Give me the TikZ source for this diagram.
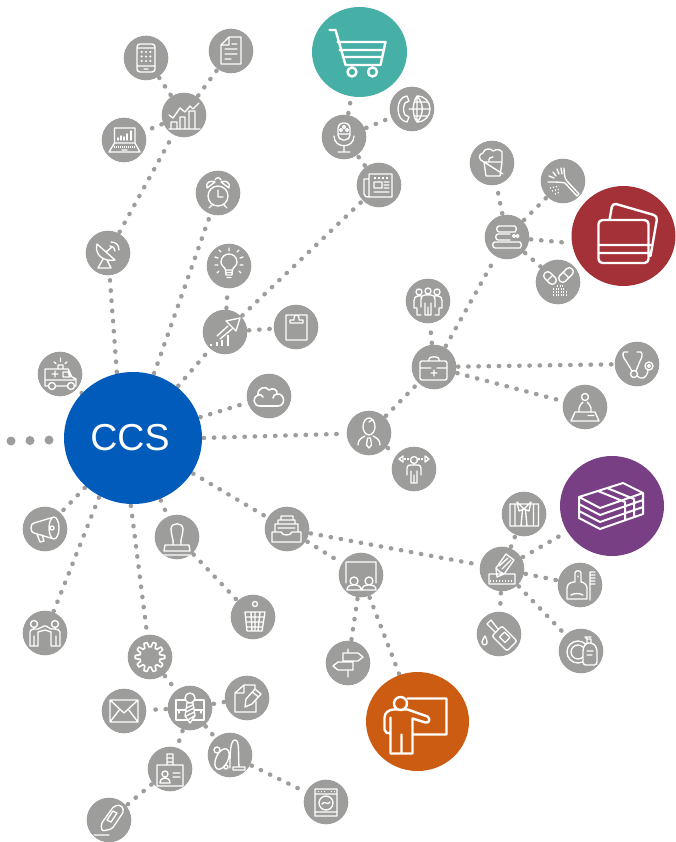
\documentclass[tikz,border=0pt]{standalone}
\usepackage{fontspec}
\setmainfont{Liberation Sans}
\usetikzlibrary{shapes.geometric,backgrounds}
\definecolor{hubgray}{HTML}{9D9D9C}
\definecolor{ccsblue}{HTML}{005BBB}
\definecolor{cartteal}{HTML}{46AFA6}
\definecolor{cardred}{HTML}{A43137}
\definecolor{cashpurple}{HTML}{793F84}
\definecolor{teachorange}{HTML}{CC5C11}
\tikzstyle{hub} = [circle, fill=hubgray, minimum size=44.6pt, inner sep=0pt]
\tikzstyle{bigdisc} = [ellipse, inner sep=0pt, minimum width=104pt, minimum height=100pt]
\tikzstyle{link} = [draw=hubgray, line width=4.4pt, line cap=round,
    dash pattern=on 0.4pt off 9.8pt, shorten <=1.5pt, shorten >=1pt]
\tikzstyle{glyph} = [draw=white, line width=1.35pt, line join=round, line cap=round]
\tikzstyle{bigglyph} = [line width=2.4pt]
\newcommand{\glyph}[3][]{\draw[glyph,shift={(#2)},#1] #3;}
\begin{document}
\begin{tikzpicture}[x=1pt,y=-1pt]
    \useasboundingbox (0,0) rectangle (676,842);
    % centre and coloured discs
    \node[ellipse, fill=ccsblue, inner sep=0pt, minimum width=138pt, minimum height=132pt,
        text=white, font=\fontsize{37.5}{40}\selectfont] (ccs) at (133,438) {CCS\kern6pt};
    \node[bigdisc, fill=cartteal, minimum width=95pt, minimum height=90pt] (cart) at (359.5,52) {};
    \node[bigdisc, fill=cardred] (cards) at (623.5,236) {};
    \node[bigdisc, fill=cashpurple] (cash) at (612,506) {};
    \node[bigdisc, fill=teachorange, minimum width=103pt, minimum height=99pt] (teacher) at (417.5,721.5) {};
    % grey discs
    \node[hub] (tablet) at (146,58) {};
    \node[hub] (sheet) at (231,51) {};
    \node[hub] (chart) at (184,115) {};
    \node[hub] (laptop) at (124,140) {};
    \node[hub] (radar) at (108,253) {};
    \node[hub] (alarm) at (218,193) {};
    \node[hub] (bulb) at (229,266) {};
    \node[hub] (growth) at (225,332) {};
    \node[hub] (clipboard) at (296,327) {};
    \node[hub] (ambulance) at (60,374) {};
    \node[hub] (cloud) at (269,396) {};
    \node[hub] (micro) at (344,137) {};
    \node[hub] (callglobe) at (412,109) {};
    \node[hub] (paper) at (379,185) {};
    \node[hub] (bucket) at (492,163) {};
    \node[hub] (duster) at (563,181) {};
    \node[hub] (towels) at (507,237) {};
    \node[hub] (pills) at (558,282) {};
    \node[hub] (crowd) at (428,301) {};
    \node[hub] (medkit) at (434,367) {};
    \node[hub] (stetho) at (637,364) {};
    \node[hub] (desk) at (585,407) {};
    \node[hub] (manager) at (369,433) {};
    \node[hub] (stretch) at (414,469) {};
    \node[hub] (shirt) at (524,514) {};
    \node[hub] (ruler) at (502,569) {};
    \node[hub] (dustpan) at (580,585) {};
    \node[hub] (soap) at (581,651) {};
    \node[hub] (glue) at (499,634) {};
    \node[hub] (room) at (361,575) {};
    \node[hub] (signpost) at (348,663) {};
    \node[hub] (inbox) at (287,529) {};
    \node[hub] (megaphone) at (45,529) {};
    \node[hub] (handshake) at (45,633) {};
    \node[hub] (stamp) at (177,537) {};
    \node[hub] (trash) at (253,617) {};
    \node[hub] (gear) at (150,657) {};
    \node[hub] (envelope) at (124,711) {};
    \node[hub] (suit) at (190,708) {};
    \node[hub] (pen) at (247,698) {};
    \node[hub] (vacuum) at (230,755) {};
    \node[hub] (badge) at (170,769) {};
    \node[hub] (cutter) at (109,820) {};
    \node[hub] (washer) at (326,802) {};
    \coordinate (offpage) at (11,441);
    % connectors
    \begin{scope}[on background layer]
        \draw[draw=hubgray, line width=9pt, line cap=round, dash pattern=on 0.01pt off 19pt] (offpage) -- (ccs);
        \draw[link] (ccs.104) -- (radar);
        \draw[link] (radar) -- (chart);
        \draw[link] (chart) -- (tablet);
        \draw[link] (chart) -- (sheet);
        \draw[link] (chart) -- (laptop);
        \draw[link] (ccs.72) -- (alarm);
        \draw[link] (ccs) -- (growth);
        \draw[link] (growth) -- (bulb);
        \draw[link] (growth) -- (clipboard);
        \draw[link] (growth) -- (paper);
        \draw[link] (paper) -- (micro);
        \draw[link] (micro) -- (callglobe);
        \draw[link] (micro) -- (cart);
        \draw[link, shorten <=0pt, shorten >=0pt] (ccs) -- (ambulance);
        \draw[link] (ccs) -- (cloud);
        \draw[link] (ccs.0) -- (manager);
        \draw[link] (manager) -- (stretch);
        \draw[link] (manager) -- (medkit);
        \draw[link] (medkit) -- (crowd);
        \draw[link] (medkit) -- (towels);
        \draw[link] (medkit) -- (stetho);
        \draw[link] (medkit) -- (desk);
        \draw[link] (towels) -- (bucket);
        \draw[link] (towels) -- (duster);
        \draw[link] (towels) -- (cards.188);
        \draw[link] (towels) -- (pills);
        \draw[link] (ccs) -- (inbox);
        \draw[link] (inbox) -- (ruler);
        \draw[link] (inbox) -- (room);
        \draw[link] (room) -- (signpost);
        \draw[link] (room) -- (teacher);
        \draw[link] (ruler) -- (shirt);
        \draw[link] (ruler) -- (cash);
        \draw[link] (ruler) -- (dustpan);
        \draw[link] (ruler) -- (soap);
        \draw[link] (ruler) -- (glue);
        \draw[link] (ccs) -- (stamp);
        \draw[link] (stamp) -- (trash);
        \draw[link] (ccs.268) -- (gear);
        \draw[link] (gear) -- (suit);
        \draw[link] (suit) -- (envelope);
        \draw[link] (suit) -- (pen);
        \draw[link] (suit) -- (vacuum);
        \draw[link] (suit) -- (badge);
        \draw[link] (badge) -- (cutter);
        \draw[link] (vacuum) -- (washer);
        \draw[link] (ccs) -- (megaphone);
        \draw[link] (ccs.240) -- (handshake);
    \end{scope}
    % icons on the coloured discs
    \glyph[bigglyph]{cart}{(-30,-22)--(-24,-22)--(-14,13)--(21,13) (-22,-10)--(26,-10)--(21,13) (-20,-2)--(24,-2) (-17,5)--(23,5)
        (-7.5,20) circle[radius=4.5] (13,20) circle[radius=4.5]}
    \glyph[bigglyph]{cards}{[rounded corners=4] (-25,-16) rectangle (25,27) [sharp corners] (-25,9)--(27,9) (-25,17)--(27,17)
        [rounded corners=4] (-14,-16)--(-11,-33)--(34,-20)--(27,20)}
    \glyph[line width=2pt]{cash}{(-33,-9)--(11,-23)--(31,-13)--(-12,2)--cycle (-33,-9)--(-33,12)--(-12,23)--(31,8)--(31,-13)
        (-33,-2)--(-12,9)--(31,-6) (-33,5)--(-12,16)--(31,1) (-14,-15)--(13,-4)--(13,14) (-5,-18)--(22,-7)--(22,10)}
    \glyph[bigglyph]{teacher}{(-10,-23)--(29,-23)--(29,13)--(-5,13)
        (-27,32)--(-5,32)--(-5,-3)--(8,1) .. controls (12,2) and (13,-3) .. (10,-5)--(-10,-12)--(-24,-12) .. controls (-28,-12) and (-33,-9) .. (-33,-4)--(-33,8) .. controls (-33,11) and (-30,12) .. (-27,12)--cycle
        (-27,-4)--(-27,12) (-16,32)--(-16,13)}
    \glyph[bigglyph,fill=teachorange]{teacher}{(-17,-18) circle[radius=6.5]}
    % icons on the grey discs
    \glyph{tablet}{[rounded corners=3] (-9,-14) rectangle (9,14) [sharp corners] (-9,-10)--(9,-10) (-9,8)--(9,8) (-2,11)--(2,11)}
    \foreach \dx in {-4.3,0,4.3} {\foreach \dy in {-6,-1.5,3} {\fill[white,shift={(tablet)}] (\dx,\dy) circle[radius=1.2];}}
    \glyph{sheet}{(-2,-14)--(10,-14)--(10,13)--(-10,13)--(-10,-6)--cycle (-2,-14)--(-2,-6)--(-10,-6) (1,-7)--(6,-7) (-6,-2)--(6,-2) (-6,3)--(6,3) (-6,8)--(0,8)}
    \glyph{chart}{(-15,14)--(16,14) (-13,14)--(-13,7)--(-7,7)--(-7,14) (-4,14)--(-4,2)--(1,2)--(1,14) (5,14)--(5,-4)--(11,-4)--(11,14)
        (-15,0)--(-11,3)--(-4,-7)--(1,-3)--(6,-9)--(9,-6)--(15,-12)}
    \glyph{laptop}{(-9.5,-12) rectangle (11,3) (-9.5,3)--(-15,12)--(16,12)--(11,3) (-2,10)--(3,10)}
    \glyph[line width=1.5pt]{laptop}{(-6,0)--(-6,-2) (-3,0)--(-3,-4) (0,0)--(0,-3) (3,0)--(3,-6) (7,0)--(7,-9)}
    \glyph[line width=1.5pt,line cap=butt,dash pattern=on 1pt off 1pt]{laptop}{(-10,7)--(11,7)}
    \glyph{radar}{(-11,-9) .. controls (-14,2) and (-4,9) .. (7,7)--cycle (-5,6)--(-10,15)--(3,15)--(-1,7) (-2,-1)--(4,-6)
        (3,-11) .. controls (8,-11) and (11,-8) .. (11,-3) (2,-7) .. controls (5,-7) and (7,-5) .. (7,-2)}
    \glyph{alarm}{(0,3) circle[radius=10] (0,-3)--(0,4)--(5,4) (-11,-5) .. controls (-13,-11) and (-7,-13) .. (-3,-11)--cycle
        (11,-5) .. controls (13,-11) and (7,-13) .. (3,-11)--cycle (-3,-13) .. controls (-2,-16) and (2,-16) .. (3,-13) (-6,12)--(-9,15) (6,12)--(9,15)}
    \glyph{bulb}{(-3.5,4) .. controls (-4,1) and (-8,0) .. (-8,-4) .. controls (-8,-9) and (-4,-12) .. (0,-12) .. controls (4,-12) and (8,-9) .. (8,-4) .. controls (8,0) and (4,1) .. (3.5,4)--cycle
        (-3.5,4)--(-3,9)--(3,9)--(3.5,4) (-3,6.5)--(3,6.5) (-2,11.5)--(2,11.5)
        (0,-15)--(0,-18) (-8,-14)--(-10,-16) (8,-14)--(10,-16) (-11,-8)--(-14,-9) (11,-8)--(14,-9) (-11,-1)--(-14,-1) (11,-1)--(14,-1) (-10,5)--(-12,7) (10,5)--(12,7)}
    \glyph{growth}{(-8,4)--(3,-6) (-5,7)--(7,-3) (1,-11)--(15,-14)--(11,-1)--cycle}
    \glyph[line width=2pt,line cap=butt]{growth}{(-14,14)--(-14,12) (-8,14)--(-8,10) (-3,14)--(-3,8) (3,14)--(3,3)}
    \glyph{clipboard}{(-10,-12) rectangle (11,13) (-6,-4)--(7,-4)--(7,-7)--(3,-7)--(3,-9)
        .. controls (3,-13) and (-2,-13) .. (-2,-9)--(-2,-7)--(-6,-7)--cycle}
    \glyph{ambulance}{(-15,-5)--(8,-5)--(12,3)--(16,5)--(16,12)--(-15,12)--cycle (3,-2)--(8,-2)--(10,3)--(3,3)--cycle (-15,6)--(16,6)
        (-8,0)--(-2,0) (-5,-3)--(-5,3) (-2,-5)--(-2,-9)--(3,-9)--(3,-5) (-6,-12)--(-4,-10.5) (0.5,-16)--(0.5,-12.5) (7,-12)--(5,-10.5)}
    \glyph[fill=hubgray]{ambulance}{(-8,12) circle[radius=3.5] (11,12) circle[radius=3.5]}
    \glyph[line width=1.6pt]{cloud}{(-9,10) .. controls (-16,10) and (-17,1) .. (-11,-1) .. controls (-12,-8) and (-3,-11) .. (0,-6) .. controls (4,-9) and (9,-6) .. (8,-2) .. controls (16,-3) and (17,10) .. (9,10)--cycle
        (-11,-1) .. controls (-9,-2) and (-7,-1) .. (-6,1) (8,-2) .. controls (6,-2) and (4,0) .. (4,2)}
    \glyph{micro}{(-10,-1) .. controls (-10,12) and (10,12) .. (10,-1) (0,9)--(0,15) (-6,15)--(6,15)
        [rounded corners=5] (-6,-14) rectangle (6,3) [sharp corners] (-6,-3)--(6,-3) (-3,-7) circle[radius=1.5] (3,-7) circle[radius=1.5] (0,-10) circle[radius=1.5]}
    \glyph{callglobe}{(-5,-13) .. controls (-17,-12) and (-17,12) .. (-5,13)--(-3,8)--(-7,6) .. controls (-9,2) and (-9,-2) .. (-7,-6)--(-3,-8)--cycle
        (5,-13) .. controls (13,-13) and (18,-7) .. (18,0) .. controls (18,7) and (13,13) .. (5,13)--(5,-13)
        (5,-13) .. controls (0,-6) and (0,6) .. (5,13) (5,-13) .. controls (12,-6) and (12,6) .. (5,13) (-3,0)--(18,0) (2,-7)--(16,-7) (2,7)--(16,7)}
    \glyph{paper}{(-10,-11)--(13,-11)--(13,12)--(-10,12)--cycle (-10,-6)--(-15,-6)--(-15,9) .. controls (-15,12) and (-12,12) .. (-10,12)
        (-5,-3) rectangle (3,3) (5,-3)--(10,-3) (5,0)--(10,0) (5,3)--(10,3) (-5,7)--(10,7)}
    \glyph[line cap=butt,dash pattern=on 2pt off 2pt]{paper}{(-5,-7)--(10,-7)}
    \glyph{bucket}{(-8,-1)--(-6,13)--(8,13)--(10,-1)--cycle (-8,-1) .. controls (-14,-3) and (-14,-9) .. (-9,-10) .. controls (-8,-15) and (-1,-15) .. (1,-12) .. controls (5,-15) and (12,-13) .. (10,-8)--(10,-1)
        (-8,-1)--(11,11) (-3,-1) .. controls (-4,-5) and (-1,-6) .. (1,-6)}
    \glyph{duster}{(2,2)--(14,15)--(16,13)--(4,0) (1,-13) .. controls (1,-6) and (2,-2) .. (4,0) (-15,1) .. controls (-8,1) and (-2,1) .. (2,2)
        (-2,-13)--(-1,-7) (-6,-12)--(-4,-7) (-10,-9)--(-7,-5) (-14,-5)--(-9,-3)}
    \glyph[line cap=butt,dash pattern=on 1pt off 2pt]{duster}{(-13,7)--(-4,5) (-11,10)--(-3,8) (-8,13)--(-3,11)}
    \glyph{towels}{(8,-11)--(-8,-11) .. controls (-11,-11) and (-11,-5) .. (-8,-5)--(8,-5) .. controls (10,-7) and (10,-9) .. (8,-11)
        (3,-3)--(-9,-3) .. controls (-12,-3) and (-12,3) .. (-9,3)--(3,3)
        (13,5)--(-12,5) .. controls (-15,5) and (-15,11) .. (-12,11)--(13,11) .. controls (15,9) and (15,7) .. (13,5)
        (7,-1) circle[radius=1.5] (10.5,-1) circle[radius=1.5]}
    \glyph{pills}{[rounded corners=3.5] (-10.2,-11.8)--(-0.2,-1.8)--(-5.8,3.8)--(-15.8,-6.2)--cycle (16.8,-10.2)--(4.8,1.8)--(-0.8,-3.8)--(11.2,-15.8)--cycle
        [sharp corners] (-5.2,-6.8)--(-10.8,-1.2) (10.8,-4.2)--(5.2,-9.8)}
    \glyph[line width=1.4pt,line cap=butt,dash pattern=on 1pt off 1.5pt]{pills}{(-1,4)--(6,4) (-5,7)--(7,7) (-5,10)--(8,10) (-5,13)--(8,13)}
    \glyph{crowd}{(0,-10) circle[radius=3] (-9,-9) circle[radius=3] (9,-9) circle[radius=3]
        (-3,14)--(-3,2) (-7,6)--(-7,-2) .. controls (-7,-5) and (-5,-6) .. (-3,-6)--(3,-6) .. controls (5,-6) and (7,-5) .. (7,-2)--(7,6) (0,14)--(0,6) (3,14)--(3,2) (-3,14)--(3,14)
        (-7,-5)--(-10,-5) .. controls (-13,-5) and (-14,-3) .. (-14,0)--(-14,7)--(-11,7)--(-11,14)--(-7,14) (7,-5)--(10,-5) .. controls (13,-5) and (14,-3) .. (14,0)--(14,7)--(11,7)--(11,14)--(7,14)}
    \glyph{medkit}{[rounded corners=2] (-14,-6) rectangle (13,13) [sharp corners] (-14,1)--(-3,1) (3,1)--(13,1) (-5,-6)--(-5,-8) .. controls (-5,-11) and (5,-11) .. (5,-8)--(5,-6) (-3,6)--(3,6) (0,3)--(0,9)}
    \glyph{stetho}{(-13,-12) .. controls (-15,-11) and (-14,-6) .. (-11,-3)--(-5,7) (4,-12) .. controls (6,-10) and (5,-6) .. (3,-3)--(-1,7)
        (-3,10) circle[radius=3.5] (0,12) .. controls (4,16) and (10,15) .. (11,6) (12,2) circle[radius=4] (12,2) circle[radius=1.5] (-13,-12)--(-9,-12) (4,-12)--(0,-12)}
    \glyph{desk}{(0,-10) circle[radius=3.5] (-6,5)--(-6,1) .. controls (-6,-2) and (-3,-3) .. (-2,-5) (6,5)--(6,1) .. controls (6,-2) and (3,-3) .. (2,-5) (-10,5)--(10,5)--(14,14)--(-14,14)--cycle (3,8.5)--(9,8.5)}
    \glyph{manager}{(-6,-6) .. controls (-6,-18) and (6,-18) .. (6,-6) .. controls (6,-2) and (3,2) .. (0,2) .. controls (-3,2) and (-6,-2) .. (-6,-6) (-11,12) .. controls (-11,7) and (-8,5) .. (-4,3) (11,12) .. controls (11,7) and (8,5) .. (4,3) (-1.5,5)--(1.5,5)--(2.5,12)--(0,15)--(-2.5,12)--cycle (0,-11)--(3,-13)}
    \glyph{stretch}{(0,-9) circle[radius=3.5] (-15,-10)--(-11,-13)--(-11,-7)--cycle (15,-10)--(11,-13)--(11,-7)--cycle
        (-3,14)--(-3,2) (-7,6)--(-7,-1) .. controls (-7,-4) and (-5,-4) .. (-3,-4)--(3,-4) .. controls (5,-4) and (7,-4) .. (7,-1)--(7,6) (0,14)--(0,6) (3,14)--(3,2) (-3,14)--(3,14)}
    \glyph[line cap=butt,dash pattern=on 1.5pt off 1.5pt]{stretch}{(-10,-10)--(-4,-10) (4,-10)--(10,-10)}
    \glyph{shirt}{(-14,-10) rectangle (14.5,12) (-9,-10)--(-9,12) (9.5,-10)--(9.5,12) (-7,-12)--(0,-5)--(7,-12) (-7,-12)--(-5,-3)--(0,-5)--(5,-3)--(7,-12) (-1.5,-4)--(-3,12) (1.5,-4)--(3,12)}
    \glyph{ruler}{(-13,5) rectangle (13,15) (-5,8)--(-6,-1)--(4,-15)--(12,-9)--(2,5)--cycle (-6,-1)--(-2,3)--(2,5) (-3,-3)--(6,-11) (0,0)--(9,-9)}
    \glyph[line cap=butt,dash pattern=on 1pt off 2pt]{ruler}{(-12,12)--(12,12)}
    \glyph{dustpan}{(-13,14)--(-13,3) .. controls (-13,-3) and (-6,-3) .. (-5,-3)--(-5,-12) .. controls (-5,-15) and (1,-15) .. (1,-12)--(1,-3) .. controls (4,-3) and (7,0) .. (7,3)--(7,14)--cycle
        (-9,10) .. controls (-5,8) and (-1,8) .. (3,10) (10,-13)--(10,15) (10,-13)--(15,-13) (10,-10)--(15,-10) (10,-7)--(15,-7) (10,-4)--(15,-4) (10,-1)--(15,-1) (-2,-9)--(-2,-8)}
    \glyph{soap}{(-3,1) circle[radius=11] (-3,1) circle[radius=7]}
    \glyph[fill=hubgray]{soap}{[rounded corners=3] (2,14)--(2,-3)--(5,-8)--(12,-8)--(16,-3)--(16,14)--cycle}
    \glyph{soap}{(6,-8)--(6,-12)--(10,-12)--(10,-8) (6,-12)--(4,-14)--(10,-14) (6,0)--(12,0) (6,4)--(11,4)}
    \glyph{glue}{[rounded corners=2] (3,-8)--(18,7)--(8,17)--(-7,2)--cycle [sharp corners] (-1,-5)--(-8,-14)--(-12,-10)--(-4,-2) (5.5,-2)--(11,3.5)--(6,8.5)--(0.5,3)--cycle
        (-14,2) .. controls (-13,5) and (-11,7) .. (-12,9) .. controls (-13,12) and (-17,11) .. (-17,8) .. controls (-17,6) and (-15,4) .. (-14,2)}
    \glyph{room}{(-15,8)--(-15,-13)--(15,-13)--(15,8) (-7,6) circle[radius=4] (8,6) circle[radius=4]}
    \glyph[fill=hubgray]{room}{(-14,15) .. controls (-14,11) and (-11,10) .. (-7,10) .. controls (-3,10) and (0,11) .. (0,15)--cycle (1,15) .. controls (1,11) and (4,10) .. (8,10) .. controls (12,10) and (15,11) .. (15,15)--cycle}
    \glyph{signpost}{(-5,-10)--(10,-10)--(15,-6)--(10,-2)--(-5,-2)--cycle (5,-1)--(-10,-1)--(-15,3)--(-10,7)--(5,7)--cycle (0,-14)--(0,-10) (0,7)--(0,14)}
    \glyph{inbox}{(-15,3)--(-15,13)--(14,13)--(14,3)--(5,3) .. controls (4,7) and (-5,7) .. (-6,3)--cycle (-12,3)--(-12,-5)--(11,-5)--(11,3) (-9,-5)--(-9,-9)--(8,-9)--(8,-5) (-6,-9)--(-6,-13)--(6,-13)--(6,-9) (-9,-1)--(8,-1)}
    \glyph{megaphone}{(9,-1) ellipse[x radius=5,y radius=11] (9,-12)--(-11,-6) .. controls (-15,-6) and (-15,4) .. (-11,4)--(9,10) (-8,5)--(-5,13)--(-1,12)--(-3,6) (7,-1) circle[radius=2]}
    \glyph{handshake}{(-11,-9) circle[radius=3.5] (10,-9) circle[radius=3.5]
        (-15,13)--(-15,-1) .. controls (-15,-3) and (-13,-4) .. (-11,-4)--(-7,-4)--(-1,-7)--(1,-7)--(6,-4)--(10,-4) .. controls (12,-4) and (15,-3) .. (15,-1)--(15,13)
        (-7,13)--(-7,-1)--(0,-3)--(6,-1)--(6,13) (-11,13)--(-11,3) (11,13)--(11,3) (-15,13)--(-7,13) (6,13)--(15,13)}
    \glyph{stamp}{(-4,8) .. controls (-3,3) and (-6,-2) .. (-6,-8) .. controls (-6,-15) and (6,-15) .. (6,-8) .. controls (6,-2) and (3,3) .. (4,8) (-12,8)--(12,8)--(13,14)--(-13,14)--cycle (-13,18)--(13,18)}
    \glyph{trash}{(-8,-5)--(12,-5)--(9,14)--(-6,14)--cycle (-7,0)--(11,0) (-7,5)--(10,5) (-6,10)--(10,10) (-2,-5)--(-1,14) (2,-5)--(2,14) (7,-5)--(5,14) (2,-13) circle[radius=2.5]}
    \glyph[line width=1.6pt]{gear}{plot[domain=0:360,samples=121] (\x:{12.5+2.3*sign(cos(10*\x))}) -- cycle}
    \glyph{envelope}{(-14,-11) rectangle (14,11) (-14,-11)--(0,2)--(14,-11) (-14,11)--(-4,-2) (14,11)--(4,-2)}
    \glyph{suit}{(-14,-8) rectangle (14,12) (-14,2)--(14,2) (-11,2)--(-11,5) (11,2)--(11,5)}
    \glyph[fill=hubgray]{suit}{(0,-10) circle[radius=5] (-3,-5)--(3,-5)--(5,8)--(0,15)--(-5,8)--cycle (-3.5,0)--(3,-3) (-4,4)--(4,0) (-4,8)--(4.5,4) (-2,12)--(4,8)}
    \glyph{pen}{(-3,-13)--(8,-13)--(8,-8) (-3,-13)--(-12,-5)--(-12,14)--(9,14)--(9,3) (-3,-13)--(-3,-5)--(-12,-5)}
    \glyph[fill=hubgray]{pen}{(-2,9)--(-1,1)--(8,-9)--(14,-4)--(5,6)--cycle (5.5,-6)--(11.5,-1)}
    \glyph{vacuum}{{[rotate around={-25:(-8,4)}] (-8,4) ellipse[x radius=6,y radius=11]} (-4,12) circle[radius=2] (-13,-5) circle[radius=3]
        (0,13) .. controls (0,0) and (0,-15) .. (5,-15) .. controls (10,-15) and (8,0) .. (9,12) (3,12) rectangle (15,15)}
    \glyph{badge}{(-13,-4) rectangle (13,17) (-3,-15) rectangle (3,-4) (-3,-11)--(3,-11) (-3,-7)--(3,-7) (-5,5) circle[radius=3]
        (-10,14) .. controls (-10,10) and (-7,9) .. (-5,9) .. controls (-3,9) and (0,10) .. (0,14)--cycle (3,4)--(10,4) (3,8)--(10,8)}
    \glyph{cutter}{[rounded corners=2] (-7,11)--(-8,4)--(5,-14)--(12,-15)--(15,-9)--(3,9)--cycle [sharp corners] (-15,15)--(0,15) (4,-9)--(8,-7)--(2,2)--(-2,0)--cycle}
    \glyph{washer}{(-11,-13) rectangle (11,14) (-11,-8)--(11,-8) (-11,10)--(11,10) (0,1) circle[radius=7] (-4,2) .. controls (-2,-2) and (2,4) .. (4,0)}
    \glyph[line cap=butt,dash pattern=on 1pt off 2pt]{washer}{(-8,-10.5)--(0,-10.5) (5,-10.5)--(9,-10.5)}
\end{tikzpicture}
\end{document}
